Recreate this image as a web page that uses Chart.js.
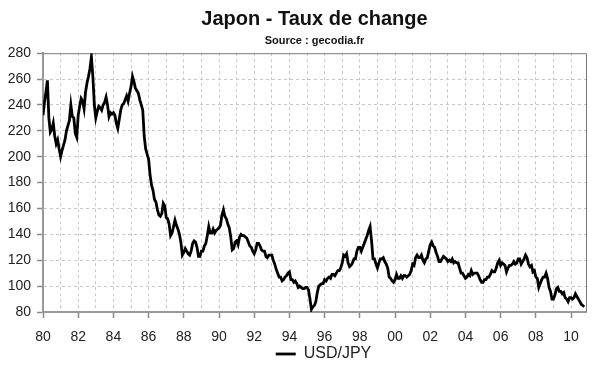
<!DOCTYPE html>
<html>
<head>
<meta charset="utf-8">
<script src="https://cdn.jsdelivr.net/npm/chart.js@4"></script>
<style>
  html, body { margin: 0; padding: 0; background: #fff; }
  #wrap { width: 600px; height: 372px; position: relative; }
</style>
</head>
<body>
<div id="wrap"><canvas id="c" width="600" height="372"></canvas></div>
<script>
// Monthly USD/JPY (Jan 1980 .. Oct 2010)
const startYear = 1980;
const usdJpy1980s = [
  232, 242, 250, 259, 230, 219, 221, 226, 216, 210, 213, 206, // 1980
  200, 205, 209, 213, 220, 224, 228, 240, 231, 230, 218, 215, // 1981
  232, 239, 245, 243, 237, 250, 257, 262, 268, 277, 262, 240, // 1982
  230, 235, 239, 238, 236, 240, 242, 246, 240, 231, 234, 233, // 1983
  234, 232, 226, 222, 229, 236, 240, 241, 244, 247, 243, 249, // 1984
  254, 262, 258, 253, 251, 249, 244, 240, 236, 216, 206, 202, // 1985
  198, 186, 178, 174, 167, 165, 159, 155, 154, 156, 164, 162, // 1986
  153, 152, 148, 139, 141, 146, 151, 147, 144, 140, 134, 124, // 1987
  126, 129, 127, 125, 124, 127, 133, 135, 134, 130, 123, 123, // 1988
  127, 127, 131, 133, 139, 146, 141, 141, 144, 141, 143, 144  // 1989
];
const usdJpy1990s = [
  145, 147, 155, 159, 154, 152, 148, 145, 138, 128, 129, 134, // 1990
  135, 132, 138, 140, 139, 139, 138, 137, 134, 131, 130, 127, // 1991
  125, 128, 133, 133, 131, 128, 127, 127, 123, 122, 124, 124, // 1992
  124, 120, 117, 113, 110, 107, 107, 104, 105, 107, 108, 110, // 1993
  111, 105, 105, 103, 104, 102,  99, 100,  99,  98,  98,  99, // 1994
   99,  97,  90,  82,  84,  85,  88,  95, 100, 101, 102, 102, // 1995
  105, 104, 106, 107, 106, 109, 109, 108, 110, 112, 112, 114, // 1996
  118, 124, 123, 125, 118, 115, 116, 118, 121, 121, 127, 130, // 1997
  130, 127, 130, 133, 136, 139, 143, 146, 135, 121, 121, 117, // 1998
  114, 118, 121, 121, 122, 119, 117, 114, 107, 106, 104, 103  // 1999
];
const usdJpy2000s = [
  105, 109, 106, 106, 108, 106, 108, 108, 107, 108, 109, 112, // 2000
  117, 116, 122, 124, 122, 122, 124, 120, 118, 121, 122, 127, // 2001
  132, 134, 131, 130, 126, 123, 119, 119, 121, 123, 122, 121, // 2002
  119, 120, 119, 121, 118, 119, 118, 118, 114, 110, 110, 108, // 2003
  106, 107, 109, 108, 112, 109, 110, 110, 110, 108, 105, 103, // 2004
  103, 105, 105, 107, 107, 109, 112, 111, 111, 114, 118, 120, // 2005
  116, 118, 117, 116, 111, 114, 116, 116, 117, 119, 117, 118, // 2006
  121, 121, 117, 119, 121, 124, 122, 117, 115, 116, 111, 112, // 2007
  107, 106,  99, 102, 105, 107, 107, 110, 106,  99,  96,  90, // 2008
   90,  93,  98,  99,  96,  96,  94,  95,  91,  90,  88,  91  // 2009
];
const usdJpy2010 = [91, 90, 91, 94, 92, 90, 88, 86, 85, 84];

const seriesLabel = 'USD/JPY';
const titleText = 'Japon - Taux de change';
const subtitleText = 'Source : gecodia.fr';
const yTicks = [80, 100, 120, 140, 160, 180, 200, 220, 240, 260, 280];

const values = [...usdJpy1980s, ...usdJpy1990s, ...usdJpy2000s, ...usdJpy2010];
const points = values.map((v, i) => ({ x: startYear + i / 12, y: v }));

const framePlugin = {
  id: 'frame',
  afterLayout(chart) {
    // legend in the reference sits slightly right of the plot centre
    if (chart.legend) { chart.legend.left += 9; chart.legend.right += 9; }
  },
  beforeDatasetsDraw(chart) {
    const { ctx, chartArea: a } = chart;
    ctx.save();
    ctx.strokeStyle = '#7a7a7a';
    ctx.lineWidth = 1;
    ctx.beginPath();
    ctx.moveTo(a.left, a.top + 0.5);
    ctx.lineTo(a.right + 0.5, a.top + 0.5);
    ctx.lineTo(a.right + 0.5, a.bottom);
    ctx.stroke();
    ctx.restore();
  }
};

new Chart(document.getElementById('c'), {
  type: 'line',
  data: {
    datasets: [{
      label: seriesLabel,
      data: points,
      borderColor: '#000',
      backgroundColor: '#000',
      borderWidth: 2.8,
      pointRadius: 0,
      tension: 0,
      fill: false
    }]
  },
  options: {
    responsive: false,
    animation: false,
    devicePixelRatio: 1,
    layout: { padding: { left: 0, right: 14, top: 2, bottom: 0 } },
    plugins: {
      title: {
        display: true,
        fullSize: false,
        text: titleText,
        color: '#111',
        font: { family: 'Liberation Sans, Arial, sans-serif', size: 20, weight: 'bold' },
        padding: { top: 5, bottom: 2 }
      },
      subtitle: {
        display: true,
        fullSize: false,
        text: subtitleText,
        color: '#111',
        font: { family: 'Liberation Sans, Arial, sans-serif', size: 11, weight: 'bold' },
        padding: { top: 1, bottom: 6 }
      },
      legend: {
        position: 'bottom',
        fullSize: false,
        labels: {
          usePointStyle: true,
          pointStyle: 'line',
          pointStyleWidth: 20,
          color: '#222',
          font: { family: 'Liberation Sans, Arial, sans-serif', size: 16 },
          padding: 2
        }
      },
      tooltip: { enabled: false }
    },
    scales: {
      x: {
        type: 'linear',
        min: 1980,
        max: 2010.85,
        afterBuildTicks(scale) {
          const t = [];
          for (let y = 1980; y <= 2010; y++) t.push({ value: y });
          scale.ticks = t;
        },
        afterFit(scale) { scale.height = 32; },
        ticks: {
          autoSkip: false,
          maxRotation: 0,
          includeBounds: false,
          color: '#222',
          padding: 11,
          font: { family: 'Liberation Sans, Arial, sans-serif', size: 14 },
          callback: (v) => (v % 2 === 0 ? String(v % 100).padStart(2, '0') : '')
        },
        grid: {
          color: (c) => (c.tick && c.tick.value === 1980 ? 'transparent' : '#c8c8c8'),
          lineWidth: 1,
          tickLength: 6,
          tickColor: (c) => (c.tick && c.tick.value % 2 === 0 ? '#8a8a8a' : 'transparent'),
          tickWidth: 1.5
        },
        border: { color: '#999', width: 2, dash: [3, 3] }
      },
      y: {
        min: 80,
        max: 280,
        afterBuildTicks(scale) { scale.ticks = yTicks.map(v => ({ value: v })); },
        afterFit(scale) { scale.width = 43; },
        ticks: {
          color: '#222',
          padding: 6,
          font: { family: 'Liberation Sans, Arial, sans-serif', size: 14 }
        },
        grid: {
          color: (c) => (c.tick && (c.tick.value === 280 || c.tick.value === 80) ? 'transparent' : '#c8c8c8'),
          lineWidth: 1,
          tickLength: 6,
          tickColor: '#8a8a8a',
          tickWidth: 1.5
        },
        border: { color: '#999', width: 2, dash: [3, 3] }
      }
    }
  },
  plugins: [framePlugin]
});
</script>
</body>
</html>
